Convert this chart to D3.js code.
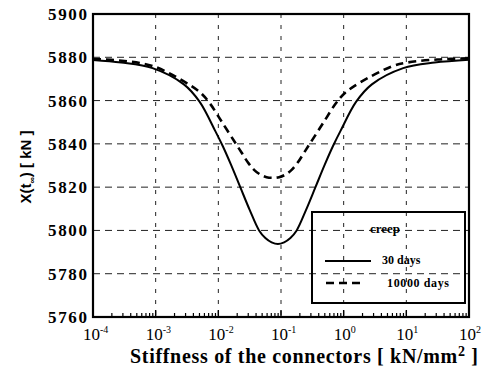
<!DOCTYPE html>
<html>
<head>
<meta charset="utf-8">
<script src="https://cdn.jsdelivr.net/npm/d3@7"></script>
<style>
  html, body { margin: 0; padding: 0; background: #fff; }
  svg { display: block; }
</style>
</head>
<body>
<svg id="chart" width="483" height="379"></svg>
<script>
// Axial force X(t∞) against connector stiffness (given as log10 of k), for two creep durations
const stiffnessExpSolid = [-4, -3.55, -3.05, -2.55, -2.3, -2.05, -1.93, -1.8, -1.65, -1.5, -1.35, -1.25, -1.15, -1.05,
                           -0.95, -0.85, -0.75, -0.6, -0.45, -0.3, -0.17, -0.05, 0.2, 0.45, 0.95, 1.45, 2];
const force30Days       = [5878.8, 5877.6, 5875, 5867.5, 5859.5, 5846, 5839, 5830.5, 5820, 5809.5, 5800, 5796.5, 5794.5, 5793.7,
                           5794.5, 5796.5, 5800, 5809.5, 5820, 5830.5, 5839, 5846, 5859.5, 5867.5, 5875, 5877.6, 5878.9];

const stiffnessExpDashed = [-4, -3.5, -3.03, -2.53, -2.28, -2.13, -1.93, -1.73, -1.63, -1.53, -1.43, -1.33, -1.23, -1.13,
                            -1.03, -0.93, -0.83, -0.73, -0.63, -0.53, -0.33, -0.13, 0.02, 0.27, 0.77, 1.02, 1.5, 2];
const force10000Days     = [5879.2, 5878.3, 5875.8, 5868.5, 5863.5, 5858.5, 5849.5, 5840.5, 5836, 5831.5, 5828, 5825.8, 5824.6, 5824.3,
                            5824.6, 5825.8, 5828, 5831.5, 5836, 5840.5, 5849.5, 5858.5, 5863.5, 5868.5, 5875.8, 5877.6, 5879, 5879.5];

const xTickExps = [-4, -3, -2, -1, 0, 1, 2];
const yTicks = [5760, 5780, 5800, 5820, 5840, 5860, 5880, 5900];
const legendTitle = "creep";
const seriesLabels = ["30 days", "10000 days"];

const svg = d3.select("#chart");
const L = 93, R = 469, T = 14, B = 317;

const x = d3.scaleLog().domain([1e-4, 1e2]).range([L, R]);
const y = d3.scaleLinear().domain([5760, 5900]).range([B, T]);

const serif = "'Liberation Serif', 'Times New Roman', serif";

// grid
const grid = svg.append("g").attr("stroke", "#222").attr("stroke-width", 1).attr("fill", "none");
yTicks.slice(1, -1).forEach(v => {
  grid.append("line").attr("x1", L).attr("x2", R).attr("y1", y(v)).attr("y2", y(v))
    .attr("stroke-dasharray", "7,5");
});
xTickExps.slice(1, -1).forEach(e => {
  grid.append("line").attr("x1", x(Math.pow(10, e))).attr("x2", x(Math.pow(10, e)))
    .attr("y1", T).attr("y2", B).attr("stroke-dasharray", "4,7");
});

// minor log ticks along the bottom edge
const minor = [];
for (let e = -4; e < 2; e++) for (let m = 2; m <= 9; m++) minor.push(m * Math.pow(10, e));
svg.append("g").selectAll("line").data(minor).join("line")
  .attr("x1", d => x(d)).attr("x2", d => x(d))
  .attr("y1", B).attr("y2", B - 4)
  .attr("stroke", "#000").attr("stroke-width", 1.2);
svg.append("g").selectAll("line").data(xTickExps).join("line")
  .attr("x1", e => x(Math.pow(10, e))).attr("x2", e => x(Math.pow(10, e)))
  .attr("y1", B).attr("y2", B - 7)
  .attr("stroke", "#000").attr("stroke-width", 1.4);

// curves
const line = d3.line().x(d => x(Math.pow(10, d[0]))).y(d => y(d[1])).curve(d3.curveCatmullRom.alpha(0.5));
svg.append("path")
  .datum(stiffnessExpSolid.map((e, i) => [e, force30Days[i]]))
  .attr("d", line).attr("fill", "none").attr("stroke", "#000").attr("stroke-width", 2);
svg.append("path")
  .datum(stiffnessExpDashed.map((e, i) => [e, force10000Days[i]]))
  .attr("d", line).attr("fill", "none").attr("stroke", "#000").attr("stroke-width", 2.6)
  .attr("stroke-dasharray", "8,5");

// frame
svg.append("rect").attr("x", L).attr("y", T).attr("width", R - L).attr("height", B - T)
  .attr("fill", "none").attr("stroke", "#000").attr("stroke-width", 2.2);

// y tick labels
svg.append("g").selectAll("text").data(yTicks).join("text")
  .attr("x", 87).attr("y", d => y(d) + 6)
  .attr("text-anchor", "end")
  .attr("font-family", serif).attr("font-size", 17).attr("font-weight", "bold")
  .attr("textLength", 39).attr("lengthAdjust", "spacing")
  .text(d => d);

// x tick labels: 10 with superscript exponent
const xl = svg.append("g").selectAll("text").data(xTickExps).join("text")
  .attr("x", e => x(Math.pow(10, e)) - 10).attr("y", 340)
  .attr("font-family", serif).attr("font-size", 17);
xl.append("tspan").text("10");
xl.append("tspan").attr("dy", -7).attr("font-size", 10).text(e => e < 0 ? "-" + Math.abs(e) : e);

// x axis title
const xt = svg.append("text").attr("x", 130).attr("y", 363)
  .attr("font-family", serif).attr("font-size", 20).attr("font-weight", "bold")
  .attr("textLength", 348).attr("lengthAdjust", "spacing");
xt.append("tspan").text("Stiffness of the connectors [ kN/mm");
xt.append("tspan").attr("dy", -7).attr("font-size", 14).text("2");
xt.append("tspan").attr("dy", 7).text(" ]");

// y axis title
const yt = svg.append("text")
  .attr("transform", "translate(31,167) rotate(-90)")
  .attr("text-anchor", "middle")
  .attr("font-family", "'Liberation Sans', Arial, sans-serif").attr("font-size", 15).attr("font-weight", "bold");
yt.append("tspan").text("X(t");
yt.append("tspan").attr("dy", 4).attr("font-size", 9).text("∞");
yt.append("tspan").attr("dy", -4).text(") [ kN ]");

// legend
const lg = svg.append("g");
lg.append("rect").attr("x", 312).attr("y", 212).attr("width", 153).attr("height", 91)
  .attr("fill", "none").attr("stroke", "#000").attr("stroke-width", 2);
lg.append("text").attr("x", 370).attr("y", 233)
  .attr("font-family", serif).attr("font-size", 13).attr("font-weight", "bold")
  .text(legendTitle);
lg.append("line").attr("x1", 325).attr("x2", 371).attr("y1", 261).attr("y2", 261)
  .attr("stroke", "#000").attr("stroke-width", 2);
lg.append("line").attr("x1", 326).attr("x2", 364).attr("y1", 283).attr("y2", 283)
  .attr("stroke", "#000").attr("stroke-width", 2.6).attr("stroke-dasharray", "8,5");
lg.append("text").attr("x", 382).attr("y", 264)
  .attr("font-family", serif).attr("font-size", 12).attr("font-weight", "bold")
  .text(seriesLabels[0]);
lg.append("text").attr("x", 387).attr("y", 287)
  .attr("font-family", serif).attr("font-size", 12).attr("font-weight", "bold")
  .attr("textLength", 62).attr("lengthAdjust", "spacing")
  .text(seriesLabels[1]);
</script>
</body>
</html>
